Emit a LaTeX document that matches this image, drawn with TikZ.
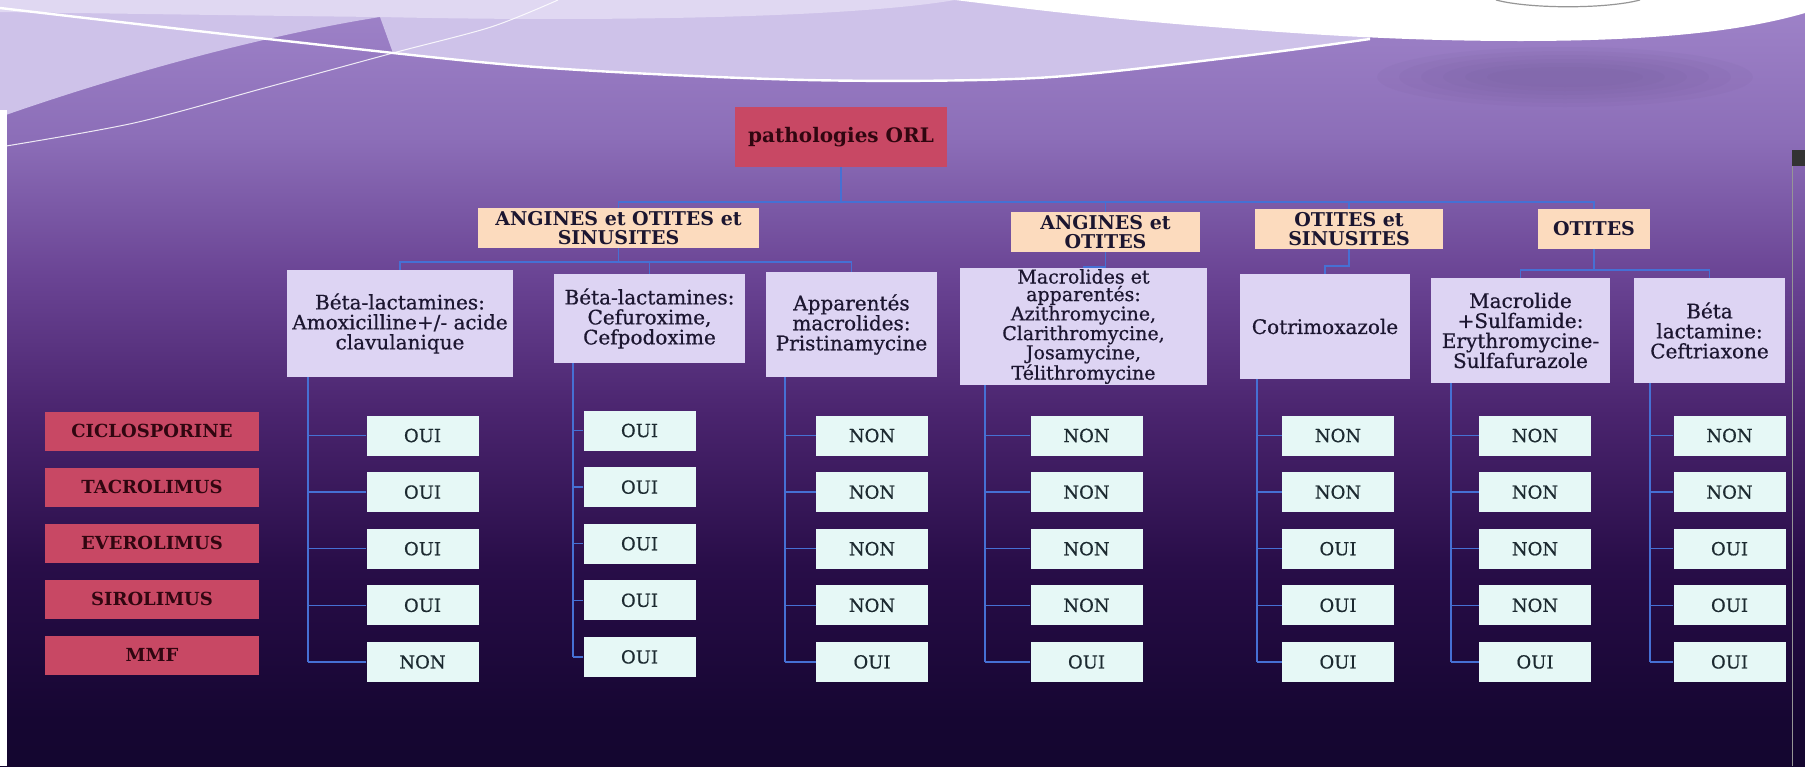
\documentclass[tikz,border=0pt]{standalone}
\usepackage{fontspec}
\setmainfont{DejaVu Serif}
\newfontfamily\boxserif{DejaVu Serif}[FakeBold=0.6]

\definecolor{rootred}{RGB}{200,72,100}
\definecolor{inkred}{RGB}{48,6,16}
\definecolor{peach}{RGB}{252,219,190}
\definecolor{lilac}{RGB}{221,212,243}
\definecolor{mint}{RGB}{230,248,246}
\definecolor{ink}{RGB}{28,22,48}
\definecolor{ansink}{RGB}{28,42,48}
\definecolor{linkblue}{RGB}{70,112,212}
\definecolor{swirl}{RGB}{206,194,233}
\definecolor{swirltop}{RGB}{224,216,242}
\definecolor{blur}{RGB}{110,88,150}
\definecolor{arcgray}{RGB}{150,150,150}
\definecolor{bg0}{RGB}{8,4,30}
\definecolor{bg1}{RGB}{12,5,38}
\definecolor{bg2}{RGB}{22,6,50}
\definecolor{bg3}{RGB}{40,13,72}
\definecolor{bg4}{RGB}{74,36,110}
\definecolor{bg5}{RGB}{106,68,148}
\definecolor{bg6}{RGB}{140,110,184}
\definecolor{bg7}{RGB}{161,134,203}
\definecolor{bg8}{RGB}{177,153,217}
\definecolor{bg9}{RGB}{188,168,225}

\pgfdeclareverticalshading{slidebg}{100bp}{color(0bp)=(bg0); color(15bp)=(bg1);
  color(28bp)=(bg2); color(38bp)=(bg3); color(48bp)=(bg4); color(57bp)=(bg5);
  color(66bp)=(bg6); color(76bp)=(bg7); color(88bp)=(bg8); color(100bp)=(bg9)}

\begin{document}
\begin{tikzpicture}[
    x=1pt, y=-1pt,
    every node/.style={rectangle, inner sep=1pt, align=center},
    rootbox/.style={fill=rootred, text=inkred, minimum width=212pt, minimum height=60pt,
      font=\fontsize{20}{20}\selectfont\bfseries},
    catbox/.style={fill=peach, text=ink, minimum height=40pt,
      font=\fontsize{19}{18.5}\selectfont\bfseries},
    drugbox/.style={fill=lilac, text=ink, font=\boxserif\fontsize{20}{20}\selectfont},
    immbox/.style={fill=rootred, text=inkred, minimum width=214pt, minimum height=39pt,
      font=\fontsize{18}{18}\selectfont\bfseries},
    ansbox/.style={fill=mint, text=ansink, minimum width=112pt, minimum height=40pt,
      font=\boxserif\fontsize{18}{18}\selectfont},
    link/.style={draw=linkblue, line width=1.7pt}
  ]
  \useasboundingbox (0,0) rectangle (1805,766);

  % slide background
  \shade[shading=slidebg] (0,0) rectangle (1805,766);
  \fill[swirl] (0,0) -- (0,117) .. controls (120,75) and (260,36) .. (380,17)
    -- (380,0) -- cycle;
  \fill[swirl] (380,0) -- (380,17) -- (393,53)
    -- plot[smooth] coordinates {(393,53) (536,67) (806,80) (1036,78) (1235,57) (1370,39)}
    -- (1370,0) -- cycle;
  \fill[swirltop] (0,0) -- (0,12) .. controls (150,14) and (280,16) .. (380,17)
    .. controls (600,22) and (850,18) .. (955,0) -- cycle;
  \foreach \k in {1,...,6}
    \fill[blur, opacity=0.08] (1565,77) ellipse ({210-22*\k} and {34-4*\k});
  \fill[white] (955,0) .. controls (1020,8) and (1100,18) .. (1200,26)
    .. controls (1300,34) and (1400,41) .. (1520,41)
    .. controls (1650,41) and (1740,32) .. (1805,13) -- (1805,0) -- cycle;
  \draw[arcgray, line width=1.2pt] (1496,0) .. controls (1530,9) and (1606,9) .. (1640,0);
  \draw[white, line width=2.4pt] plot[smooth] coordinates
    {(0,8) (277,40) (536,67) (806,80) (1036,78) (1235,57) (1370,39)};
  \draw[white, line width=1pt, opacity=0.85] plot[smooth] coordinates
    {(0,147) (134,123) (268,87) (393,53) (491,27) (558,0)};
  \fill[white] (0,110) rectangle (7,766);
  \fill[black!80] (1792,150) rectangle (1805,166);
  \draw[arcgray, line width=0.8pt] (1792.5,166) -- (1792.5,766);

  % tree
  \node[rootbox] (root) at (841,137) {pathologies ORL};

  \node[catbox, minimum width=281pt] (catA) at (618.5,228) {ANGINES et OTITES et\\SINUSITES};
  \node[catbox, minimum width=189pt] (catB) at (1105.5,232) {ANGINES et\\OTITES};
  \node[catbox, minimum width=188pt] (catC) at (1349,229) {OTITES et\\SINUSITES};
  \node[catbox, minimum width=112pt] (catD) at (1594,229) {OTITES};

  \node[drugbox, minimum width=226pt, minimum height=107pt] (ab1) at (400,323.5)
    {Béta-lactamines:\\Amoxicilline+/- acide\\clavulanique};
  \node[drugbox, minimum width=191pt, minimum height=89pt] (ab2) at (649.5,318.5)
    {Béta-lactamines:\\Cefuroxime,\\Cefpodoxime};
  \node[drugbox, minimum width=171pt, minimum height=105pt] (ab3) at (851.5,324.5)
    {Apparentés\\macrolides:\\Pristinamycine};
  \node[drugbox, minimum width=247pt, minimum height=105pt,
    font=\boxserif\fontsize{19}{17.5}\selectfont] (ab4) at (1083.5,326.5)
    {Macrolides et\\apparentés:\\Azithromycine,\\Clarithromycine,\\Josamycine,\\Télithromycine};
  \node[drugbox, minimum width=170pt, minimum height=105pt] (ab5) at (1325,326.5)
    {Cotrimoxazole};
  \node[drugbox, minimum width=179pt, minimum height=105pt] (ab6) at (1520.5,330.5)
    {Macrolide\\+Sulfamide:\\Erythromycine-\\Sulfafurazole};
  \node[drugbox, minimum width=151pt, minimum height=105pt] (ab7) at (1709.5,330.5)
    {Béta\\lactamine:\\Ceftriaxone};

  \foreach \c in {catA,catB,catC,catD}
    \draw[link] (root.south) -- ++(0,35) -| (\c.north);
  \foreach \a in {ab1,ab2,ab3}
    \draw[link] (catA.south) -- ++(0,14) -| (\a.north);
  \draw[link] (catB.south) -- ++(0,15) -| (ab4.north);
  \draw[link] (catC.south) -- ++(0,17) -| (ab5.north);
  \foreach \a in {ab6,ab7}
    \draw[link] (catD.south) -- ++(0,21) -| (\a.north);

  % immunosuppresseurs
  \foreach \name [count=\i] in {CICLOSPORINE,TACROLIMUS,EVEROLIMUS,SIROLIMUS,MMF}
    \node[immbox] (imm\i) at (152,{431+56.1*(\i-1)}) {\name};

  % OUI / NON
  \foreach \col/\tx/\cx/\dy/\vals in {
      1/308/422.5/0/{OUI,OUI,OUI,OUI,NON},
      2/573/639.5/-5/{OUI,OUI,OUI,OUI,OUI},
      3/785/872/0/{NON,NON,NON,NON,OUI},
      4/985/1086.5/0/{NON,NON,NON,NON,OUI},
      5/1257/1338/0/{NON,NON,OUI,OUI,OUI},
      6/1451/1535/0/{NON,NON,NON,NON,OUI},
      7/1650/1729.5/0/{NON,NON,OUI,OUI,OUI}}{
    \coordinate (trunk\col) at (\tx,0);
    \foreach \v [count=\r] in \vals {
      \node[ansbox] (ans\col\r) at (\cx,{435.5+56.6*(\r-1)+\dy}) {\v};
      \draw[link, line width=1.3pt] (ans\col\r.west) -- (ans\col\r.west -| trunk\col);
    }
    \draw[link, line width=1.3pt] (trunk\col |- ab\col.south) -- (trunk\col |- ans\col5.west);
  }
\end{tikzpicture}
\end{document}
